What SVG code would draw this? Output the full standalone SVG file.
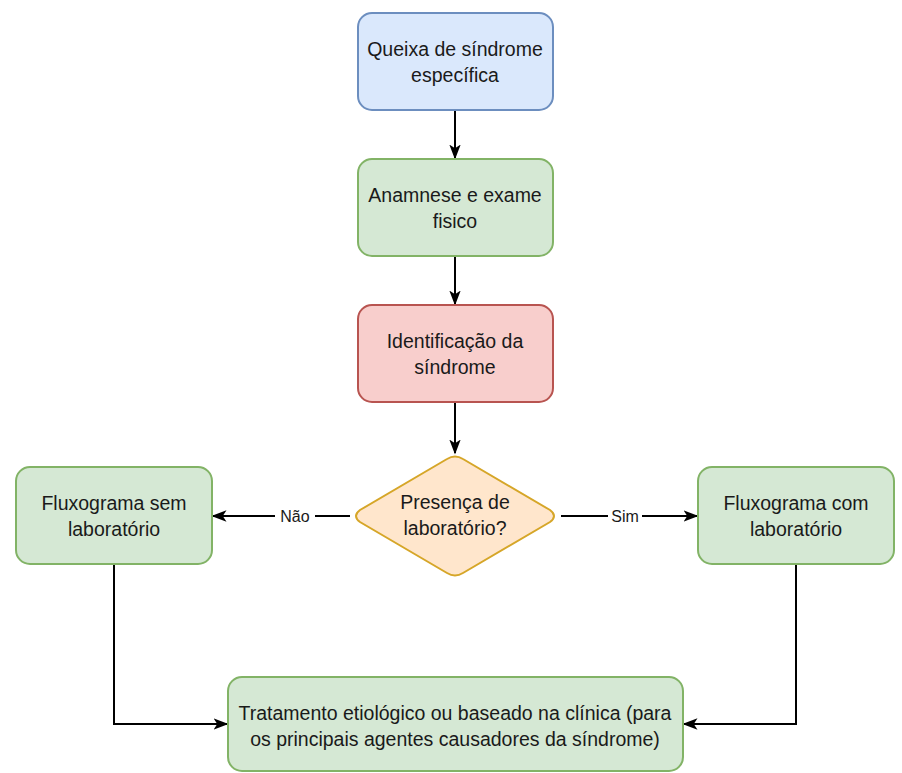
<svg xmlns="http://www.w3.org/2000/svg" width="902" height="773" viewBox="0 0 902 773">
<style>
.t{font-family:"Liberation Sans",Arial,sans-serif;font-size:19.5px;fill:#1a1a1a;text-anchor:middle}
.l{font-family:"Liberation Sans",Arial,sans-serif;font-size:16px;fill:#1a1a1a;text-anchor:middle}
.blue{fill:#dae8fc;stroke:#6c8ebf;stroke-width:2}
.green{fill:#d5e8d4;stroke:#82b366;stroke-width:2}
.red{fill:#f8cecc;stroke:#b85450;stroke-width:2}
.orange{fill:#ffe6cc;stroke:#d6a628;stroke-width:2}
.c{fill:none;stroke:#000;stroke-width:2;marker-end:url(#a)}
</style>
<defs>
<marker id="a" viewBox="0 0 10 10" refX="9" refY="5" markerWidth="15" markerHeight="15" orient="auto" markerUnits="userSpaceOnUse">
<path d="M0,1.2 L10,5 L0,8.8 L2.5,5 Z" fill="#000"/>
</marker>
</defs>
<rect width="902" height="773" fill="#fff"/>
<g id="edges">
<path class="c" d="M455,111 V158"/>
<path class="c" d="M455,257 V304"/>
<path class="c" d="M455,403 V453"/>
<path class="c" d="M350,516 H213"/>
<path class="c" d="M561,516 H697"/>
<path class="c" d="M114,565 V724 H227"/>
<path class="c" d="M796,565 V724 H684"/>
<rect x="275" y="506" width="40" height="20" fill="#fff"/>
<text class="l" x="295" y="522">Não</text>
<rect x="608" y="506" width="34" height="20" fill="#fff"/>
<text class="l" x="625" y="522">Sim</text>
</g>
<g id="n1"><rect class="blue" x="358" y="13" width="195" height="97" rx="14"/>
<text class="t" x="455" y="56">Queixa de síndrome</text><text class="t" x="455" y="82">específica</text></g>
<g id="n2"><rect class="green" x="358" y="159" width="195" height="97" rx="14"/>
<text class="t" x="455" y="202">Anamnese e exame</text><text class="t" x="455" y="228">fisico</text></g>
<g id="n3"><rect class="red" x="358" y="305" width="195" height="97" rx="14"/>
<text class="t" x="455" y="348">Identificação da</text><text class="t" x="455" y="374">síndrome</text></g>
<g id="n4"><path class="orange" d="M447,459 Q455,454 463,459 L550,510 Q558,516 550,522 L463,573 Q455,578 447,573 L360,522 Q352,516 360,510 Z"/>
<text class="t" x="455" y="509">Presença de</text><text class="t" x="455" y="535">laboratório?</text></g>
<g id="n5"><rect class="green" x="16" y="467" width="196" height="97" rx="14"/>
<text class="t" x="114" y="510">Fluxograma sem</text><text class="t" x="114" y="536">laboratório</text></g>
<g id="n6"><rect class="green" x="698" y="467" width="196" height="97" rx="14"/>
<text class="t" x="796" y="510">Fluxograma com</text><text class="t" x="796" y="536">laboratório</text></g>
<g id="n7"><rect class="green" x="228" y="677" width="455" height="94" rx="14"/>
<text class="t" x="455" y="720">Tratamento etiológico ou baseado na clínica (para</text><text class="t" x="455" y="746">os principais agentes causadores da síndrome)</text></g>
</svg>
